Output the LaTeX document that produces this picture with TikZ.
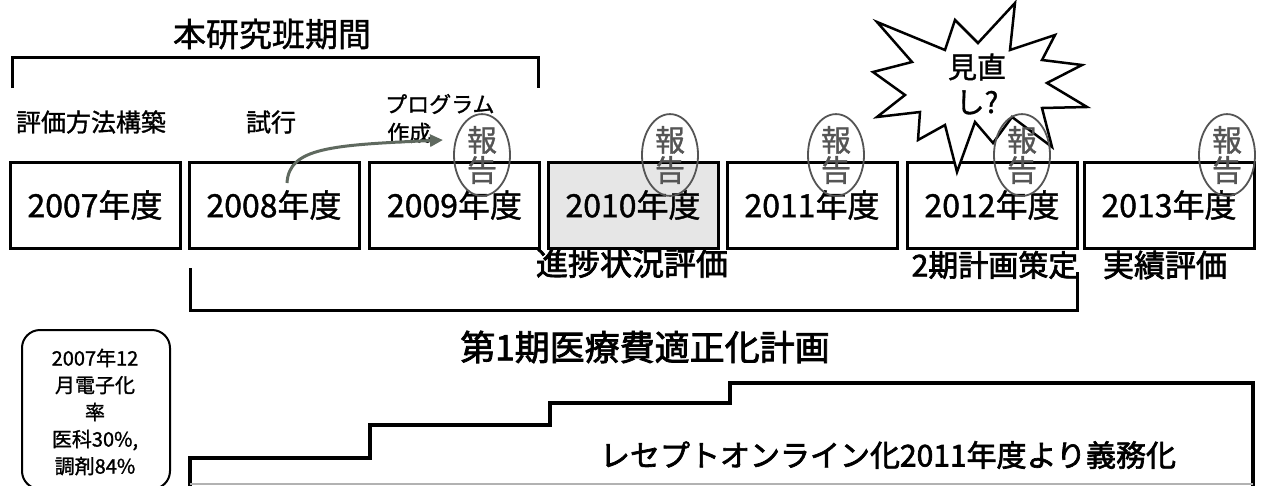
\documentclass[tikz,border=0pt]{standalone}
\usepackage{fontspec}
\setmainfont{Noto Sans CJK JP}[FakeBold=1.2]
\newfontfamily\heavyfont{Noto Sans CJK JP}[FakeBold=2.2]
\usetikzlibrary{shapes.geometric,arrows.meta}
\newcommand{\myfs}[2]{\fontsize{#1}{#2}\selectfont}
\definecolor{stampgray}{RGB}{85,85,85}
\definecolor{arrowgray}{RGB}{95,105,95}
\definecolor{boxgray}{RGB}{230,230,230}
\tikzset{
  yearbox/.style={draw, line width=3pt, minimum width=170pt, minimum height=86pt, inner sep=0pt, font=\myfs{32}{36}},
  stamp/.style={ellipse, draw=stampgray, line width=1.8pt, text=stampgray, minimum width=56pt, minimum height=76pt, inner sep=0pt, align=center, font=\myfs{30}{30}},
  bracketline/.style={line width=3pt},
  lbl/.style={inner sep=0pt},
}
\begin{document}
\begin{tikzpicture}[x=1pt,y=-1pt]
\useasboundingbox (0,0) rectangle (1261,485);
\fill[white] (0,0) rectangle (1261,485);

% top bracket
\node[lbl, font=\myfs{33}{38}] (title) at (272,34) {本研究班期間};
\coordinate (b1a) at (12,88);
\coordinate (b1b) at (12,57);
\coordinate (b1c) at (538,57);
\coordinate (b1d) at (538,88);
\draw[bracketline] (b1a) -- (b1b) -- (b1c) -- (b1d);

\node[lbl, font=\myfs{25}{30}] (phase1) at (91,122) {評価方法構築};
\node[lbl, font=\myfs{25}{30}] (phase2) at (271,122) {試行};
\node[lbl, font=\myfs{22}{26}, anchor=west] (phase3a) at (385,104) {プログラム};
\node[lbl, font=\myfs{22}{26}, anchor=west] (phase3b) at (387,133) {作成};

% year boxes
\node[yearbox] (y2007) at (95,205) {2007年度};
\node[yearbox] (y2008) at (274,205) {2008年度};
\node[yearbox] (y2009) at (454.5,205) {2009年度};
\node[yearbox, fill=boxgray] (y2010) at (633,205) {2010年度};
\node[yearbox] (y2011) at (812,205) {2011年度};
\node[yearbox] (y2012) at (992,205) {2012年度};
\node[yearbox] (y2013) at (1169,205) {2013年度};

% curved arrow
\coordinate (arrS) at (287,183);
\coordinate (arrE) at (443,140);
\draw[arrowgray, line width=3pt, -{Triangle[length=13pt,width=12pt]}]
  (arrS) .. controls (289,148) and (330,145) .. (arrE);

% starburst
\draw[line width=2.5pt, fill=white, line join=miter]
  (877,22) -- (945,50) -- (955,20) -- (978,43) -- (1015,3) -- (1010,50)
  -- (1055,35) -- (1042,60) -- (1082,65) -- (1047,83) -- (1087,107)
  -- (1042,108) -- (1052,147) -- (1012,117) -- (993,143) -- (975,122)
  -- (957,172) -- (945,125) -- (918,140) -- (920,112) -- (877,117)
  -- (905,95) -- (873,72) -- (912,62) -- cycle;
\node[lbl, font=\myfs{29}{35}, align=center] (review) at (977,84) {見直\\し?};

% report stamps
\node[stamp] (r2009) at (482,155) {報\\告};
\node[stamp] (r2010) at (670,155) {報\\告};
\node[stamp] (r2011) at (836,155) {報\\告};
\node[stamp] (r2012) at (1022,155) {報\\告};
\node[stamp] (r2013) at (1227,155) {報\\告};

% lower labels
\node[lbl, font=\heavyfont\myfs{32}{38}] (prog) at (632,263) {進捗状況評価};
\node[lbl, font=\heavyfont\myfs{30}{36}] (plan2) at (995,265) {2期計画策定};
\node[lbl, font=\heavyfont\myfs{31}{36}] (result) at (1165,265) {実績評価};

% lower bracket
\coordinate (b2a) at (190,268);
\coordinate (b2b) at (190,310);
\coordinate (b2c) at (1077,310);
\coordinate (b2d) at (1077,272);
\draw[bracketline] (b2a) -- (b2b) -- (b2c) -- (b2d);
\node[lbl, font=\heavyfont\myfs{35}{40}] (plan1) at (645,347) {第1期医療費適正化計画};

% rounded box
\draw[line width=2pt, rounded corners=18pt] (22,330) rectangle (170,489);
\node[lbl, font=\myfs{20}{27}, align=center] (rate) at (95,412) {2007年12\\月電子化\\率\\医科30\%,\\調剤84\%};

% step shape
\draw[line width=3.2pt, line join=miter]
  (190,486) -- (190,458) -- (370,458) -- (370,425) -- (550,425) -- (550,403)
  -- (730,403) -- (730,383) -- (1253,383) -- (1253,486);
\draw[gray!60, line width=1.5pt] (190,484) -- (1253,484);
\node[lbl, font=\heavyfont\myfs{30}{36}] (online) at (888,455) {レセプトオンライン化2011年度より義務化};
\end{tikzpicture}
\end{document}
